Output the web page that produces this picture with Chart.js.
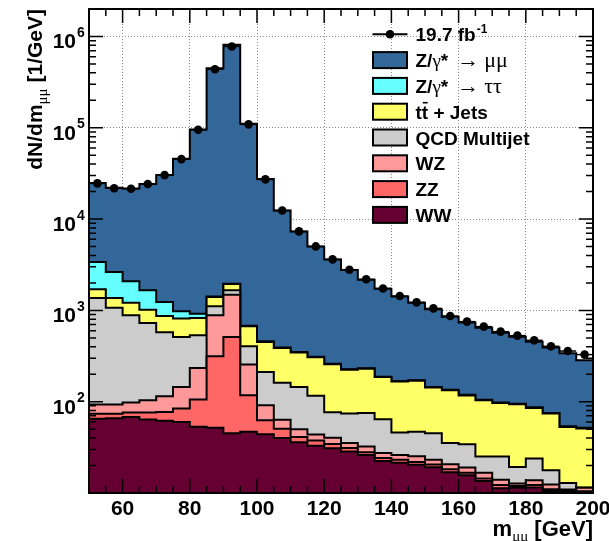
<!DOCTYPE html>
<html>
<head>
<meta charset="utf-8">
<script src="https://cdn.jsdelivr.net/npm/chart.js@4.4.1/dist/chart.umd.min.js"></script>
<style>
  html, body { margin: 0; padding: 0; background: #ffffff; }
  #wrap { width: 609px; height: 541px; }
</style>
</head>
<body>
<div id="wrap"><canvas id="massChart" width="609" height="541"></canvas></div>
<script>
/* ===============================
   DATA  (dN/dm per GeV, 5 GeV bins, 50-200 GeV)
================================= */

const binEdges = [50, 55, 60, 65, 70, 75, 80, 85, 90, 95,
                  100, 105, 110, 115, 120, 125, 130, 135, 140, 145,
                  150, 155, 160, 165, 170, 175, 180, 185, 190, 195];
const binWidth = 5;

const dataValues = [24600, 21800, 21500, 24200, 30300, 45400, 95300, 438000, 778000, 109000,
                    27200, 12400, 7330, 5020, 3620, 2790, 2190, 1740, 1435, 1225,
                    1052, 867, 753, 664, 585, 529, 470, 404, 359, 328];

const wwValues = [65, 66, 68, 64, 62, 60, 53, 52, 45, 47,
                  44, 40, 36, 33, 31, 28.4, 26, 22.4, 21.5, 20.4,
                  19.1, 16.9, 15.6, 13.5, 11.3, 11.4, 11.5, 10.5, 10.2, 10.2];

const zzValues = [9, 8, 8, 12, 15, 24, 53, 262, 466, 71,
                  18.5, 10.6, 5, 4.5, 3.4, 2.7, 2, 1.8, 1.7, 1.5,
                  1.4, 1.3, 1.1, 0.9, 0.9, 0.5, 0.7, 0.5, 0.3, 0.25];

const wzValues = [19, 19, 22, 28, 38, 61, 128, 569, 976, 137,
                  29, 13, 9, 6.2, 6, 4.2, 4.4, 3.2, 2.9, 3.3,
                  2.7, 2.4, 2.3, 2.3, 1.8, 0.8, 1.6, 1.4, 0.4, 0.95];

const qcdValues = [1272, 979, 785, 623, 460, 366, 299, 224, 170, 149,
                   120, 98, 95, 72.6, 36.3, 38.8, 42.7, 36.7, 19.8, 21.6,
                   21.9, 14.7, 15.2, 8.4, 11.1, 6.6, 10, 5.3, 2, 0.1];

const ttbarValues = [335, 293, 333, 292, 292, 302, 292, 293, 286, 265,
                     240, 225, 200, 191, 180, 150, 155, 122, 121, 123,
                     98, 98, 83, 78.5, 71.7, 74.4, 61.5, 56.4, 39.9, 39.3];

const ztautauValues = [1680, 1265, 864, 638, 367, 164, 96, 20, 15, 10,
                       8, 6, 5, 4, 3, 3, 3, 2, 2, 2,
                       2, 2, 2, 1.5, 1.5, 1.5, 1.5, 1.2, 1, 1];

const zmumuValues = [21420, 19440, 19600, 22620, 29240, 44860, 94980, 448400, 809000, 110000,
                     26940, 12000, 6950, 4690, 3340, 2540, 1937, 1542, 1251, 1038,
                     885, 715, 616, 540, 472, 420, 368, 317, 285, 232];

const xTicks = [60, 80, 100, 120, 140, 160, 180, 200];
const yTicks = [1e2, 1e3, 1e4, 1e5, 1e6];

/* ===============================
   STYLE
================================= */

const SANS = '"Liberation Sans", Arial, Helvetica, sans-serif';
const SERIF = '"Liberation Serif", "Times New Roman", serif';

const colors = {
  ww: "#660033",
  zz: "#ff6666",
  wz: "#ff9999",
  qcd: "#cccccc",
  ttbar: "#ffff66",
  ztautau: "#66ffff",
  zmumu: "#336699"
};

// stacked from bottom to top
const stack = [
  { values: wwValues, color: colors.ww },
  { values: zzValues, color: colors.zz },
  { values: wzValues, color: colors.wz },
  { values: qcdValues, color: colors.qcd },
  { values: ttbarValues, color: colors.ttbar },
  { values: ztautauValues, color: colors.ztautau },
  { values: zmumuValues, color: colors.zmumu }
];

/* ===============================
   HISTOGRAM HELPERS
================================= */

function stepPoints(values) {
  const pts = [];
  values.forEach((v, i) => {
    pts.push({ x: binEdges[i], y: v });
    pts.push({ x: binEdges[i] + binWidth, y: v });
  });
  return pts;
}

let running = binEdges.map(() => 0);
const histDatasets = stack.map((s, k) => {
  running = running.map((r, i) => r + s.values[i]);
  return {
    data: stepPoints(running),
    borderColor: "#000000",
    borderWidth: 2,
    backgroundColor: s.color,
    fill: k === 0 ? "start" : "-1",
    pointRadius: 0,
    tension: 0,
    order: 1
  };
});

const dataDataset = {
  data: binEdges.map((e, i) => ({ x: e + binWidth / 2, y: dataValues[i] })),
  showLine: false,
  pointRadius: 4.3,
  pointBackgroundColor: "#000000",
  pointBorderWidth: 0,
  order: 0
};

/* ===============================
   TEXT HELPERS
================================= */

function drawRuns(ctx, x, y, runs) {
  let cx = x;
  runs.forEach(r => {
    ctx.font = r.font;
    if (r.gap) cx += r.gap;
    const w = ctx.measureText(r.text).width;
    ctx.fillText(r.text, cx, y + (r.dy || 0));
    if (r.bar) {
      ctx.save();
      ctx.lineWidth = 1.6;
      ctx.beginPath();
      ctx.moveTo(cx + 1, y - 16);
      ctx.lineTo(cx + w - 0.5, y - 16);
      ctx.stroke();
      ctx.restore();
    }
    cx += w;
  });
  return cx - x;
}

function runsWidth(ctx, runs) {
  let w = 0;
  runs.forEach(r => {
    ctx.font = r.font;
    w += (r.gap || 0) + ctx.measureText(r.text).width;
  });
  return w;
}

const bold19 = "bold 19px " + SANS;
const serif19 = "19px " + SERIF;
const serif22 = "22px " + SERIF;

function zRuns(decay) {
  return [
    { text: "Z/", font: bold19 },
    { text: "γ", font: serif19 },
    { text: "*", font: bold19 },
    { text: "→", font: serif22, gap: 9 },
    { text: decay, font: serif22, gap: 5 }
  ];
}

const legendEntries = [
  { marker: true, runs: [{ text: "19.7 fb", font: bold19 }, { text: "-1", font: "bold 12px " + SANS, dy: -8, gap: 1 }] },
  { color: colors.zmumu, runs: zRuns("μμ") },
  { color: colors.ztautau, runs: zRuns("ττ") },
  { color: colors.ttbar, runs: [{ text: "t", font: bold19 }, { text: "t", font: bold19, bar: true }, { text: " + Jets", font: bold19 }] },
  { color: colors.qcd, runs: [{ text: "QCD Multijet", font: bold19 }] },
  { color: colors.wz, runs: [{ text: "WZ", font: bold19 }] },
  { color: colors.zz, runs: [{ text: "ZZ", font: bold19 }] },
  { color: colors.ww, runs: [{ text: "WW", font: bold19 }] }
];

/* ===============================
   FRAME, TICKS, LABELS, LEGEND
================================= */

const rootStyle = {
  id: "rootStyle",
  afterDatasetsDraw(chart) {
    const { ctx, scales } = chart;
    // horizontal bars across each data bin
    ctx.save();
    ctx.strokeStyle = "#000000";
    ctx.lineWidth = 1.5;
    binEdges.forEach((e, i) => {
      const y = scales.y.getPixelForValue(dataValues[i]);
      ctx.beginPath();
      ctx.moveTo(scales.x.getPixelForValue(e), y);
      ctx.lineTo(scales.x.getPixelForValue(e + binWidth), y);
      ctx.stroke();
    });
    ctx.restore();
  },
  afterDraw(chart) {
    const { ctx, chartArea, scales } = chart;
    const { left, right, top, bottom } = chartArea;
    ctx.save();
    ctx.strokeStyle = "#000000";
    ctx.fillStyle = "#000000";

    // inward ticks on all four sides
    ctx.lineWidth = 1.5;
    ctx.beginPath();
    for (let v = 50; v <= 200; v += 5) {
      const x = scales.x.getPixelForValue(v);
      const len = xTicks.includes(v) ? 14 : 7;
      ctx.moveTo(x, bottom); ctx.lineTo(x, bottom - len);
      ctx.moveTo(x, top); ctx.lineTo(x, top + len);
    }
    for (let d = 1; d <= 6; d++) {
      for (let m = 1; m <= 9; m++) {
        const v = m * Math.pow(10, d);
        if (v > scales.y.max) continue;
        const y = scales.y.getPixelForValue(v);
        const len = m === 1 ? 14 : 7;
        ctx.moveTo(left, y); ctx.lineTo(left + len, y);
        ctx.moveTo(right, y); ctx.lineTo(right - len, y);
      }
    }
    ctx.stroke();

    // frame
    ctx.lineWidth = 2;
    ctx.strokeRect(left, top, right - left, bottom - top);

    // x tick labels
    ctx.font = "bold 21px " + SANS;
    ctx.textAlign = "center";
    ctx.textBaseline = "alphabetic";
    xTicks.forEach(v => {
      ctx.fillText(String(v), scales.x.getPixelForValue(v), 515);
    });

    // y tick labels: 10 with exponent
    yTicks.forEach(v => {
      const y = scales.y.getPixelForValue(v);
      ctx.font = "bold 21px " + SANS;
      ctx.textAlign = "right";
      ctx.fillText("10", 76, y + 12);
      ctx.font = "bold 14px " + SANS;
      ctx.textAlign = "left";
      ctx.fillText(String(Math.round(Math.log10(v))), 77, y + 0.5);
    });

    // x axis title, right aligned to the frame
    ctx.textAlign = "left";
    const xTitle = [
      { text: "m", font: "bold 22px " + SANS },
      { text: "μμ", font: "15px " + SERIF, dy: 5 },
      { text: " [GeV]", font: "bold 22px " + SANS }
    ];
    drawRuns(ctx, right - runsWidth(ctx, xTitle), 536, xTitle);

    // y axis title, rotated and aligned to the top of the frame
    const yTitle = [
      { text: "dN/dm", font: "bold 21px " + SANS },
      { text: "μμ", font: "15px " + SERIF, dy: 5 },
      { text: " [1/GeV]", font: "bold 21px " + SANS }
    ];
    const tw = runsWidth(ctx, yTitle);
    ctx.save();
    ctx.translate(42, top + tw);
    ctx.rotate(-Math.PI / 2);
    drawRuns(ctx, 0, 0, yTitle);
    ctx.restore();

    // legend
    const boxL = 373, boxR = 407, textX = 415.5;
    legendEntries.forEach((entry, i) => {
      const cy = 34.3 + i * 25.8;
      if (entry.marker) {
        ctx.lineWidth = 2;
        ctx.beginPath();
        ctx.moveTo(boxL - 0.5, cy);
        ctx.lineTo(boxR + 0.5, cy);
        ctx.stroke();
        ctx.beginPath();
        ctx.arc((boxL + boxR) / 2, cy, 4.3, 0, Math.PI * 2);
        ctx.fill();
      } else {
        ctx.fillStyle = entry.color;
        ctx.fillRect(boxL, cy - 8, boxR - boxL, 16);
        ctx.lineWidth = 2;
        ctx.strokeRect(boxL, cy - 8, boxR - boxL, 16);
        ctx.fillStyle = "#000000";
      }
      drawRuns(ctx, textX, cy + 7, entry.runs);
    });

    ctx.restore();
  }
};

/* ===============================
   CHART
================================= */

new Chart(document.getElementById("massChart"), {
  type: "line",
  data: { datasets: [...histDatasets, dataDataset] },
  options: {
    responsive: false,
    animation: false,
    devicePixelRatio: 1,
    layout: { padding: { top: 9, right: 16, left: 0, bottom: 0 } },
    plugins: {
      legend: { display: false },
      tooltip: { enabled: false }
    },
    scales: {
      x: {
        type: "linear",
        min: 50,
        max: 200,
        afterBuildTicks: axis => { axis.ticks = xTicks.map(v => ({ value: v })); },
        afterFit: axis => { axis.height = 48; },
        ticks: { display: false },
        grid: { color: "#8a8a8a", lineWidth: 1, drawTicks: false },
        border: { display: false, dash: [1, 2] }
      },
      y: {
        type: "logarithmic",
        min: 10,
        max: 2e6,
        afterBuildTicks: axis => { axis.ticks = yTicks.map(v => ({ value: v })); },
        afterFit: axis => { axis.width = 89; },
        ticks: { display: false },
        grid: { color: "#8a8a8a", lineWidth: 1, drawTicks: false },
        border: { display: false, dash: [1, 2] }
      }
    }
  },
  plugins: [rootStyle]
});
</script>
</body>
</html>
